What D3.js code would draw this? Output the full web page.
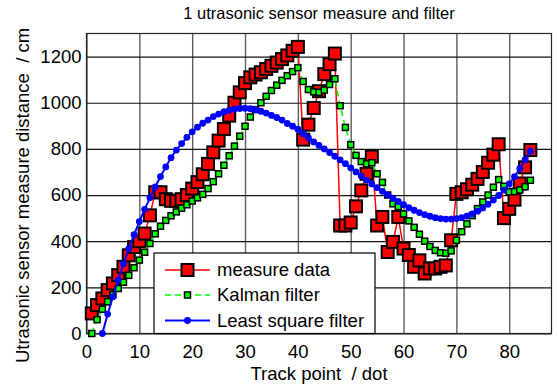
<!DOCTYPE html>
<html><head><meta charset="utf-8">
<script src="https://cdn.jsdelivr.net/npm/d3@7"></script>
<style>body{margin:0;background:#fff}svg{display:block}text{font-family:"Liberation Sans",Arial,sans-serif;fill:#000;white-space:pre}</style>
</head><body>
<script>
const title = "1 utrasonic sensor measure and filter";
const xLabel = "Track point  / dot";
const yLabel = "Utrasonic sensor measure distance  / cm";
const xTicks = [0,10,20,30,40,50,60,70,80];
const yTicks = [0,200,400,600,800,1000,1200];
const seriesNames = ["measure data","Kalman filter","Least square filter"];

const measureStart = 1;
const measure = [87,123,152,188,217,253,289,339,375,400,433,512,612,612,582,575,575,582,600,628,
656,690,735,785,836,886,944,1000,1045,1085,1110,1122,1132,1146,1160,1174,1189,1205,1225,1242,
840,905,977,1050,1124,1167,1213,468,468,481,551,620,692,767,468,505,353,397,505,368,
340,289,317,260,282,282,289,295,404,605,612,625,645,670,700,740,775,820,500,540,
580,650,720,795];

const kalmanStart = 1;
const kalman = [0,60,105,138,168,195,222,252,285,318,352,390,432,465,490,510,527,543,558,574,
588,603,628,658,692,729,770,812,855,898,938,970,1000,1028,1053,1076,1097,1117,1135,1152,
1092,1057,1047,1045,1055,1079,1104,987,893,818,772,745,735,740,692,655,600,562,550,518,
488,460,430,400,377,360,350,348,358,404,441,475,511,541,570,600,634,667,638,614,
615,622,636,664];

const lsqStart = 3;
const lsq = [0,84,159,232,302,368,428,485,538,588,635,680,722,762,795,823,850,874,894,911,
925,940,951,960,967,972,975,976,974,970,963,955,945,936,925,910,898,885,866,848,
830,815,800,784,768,752,736,718,700,682,665,648,632,616,601,586,572,558,545,534,
524,515,508,502,498,496,496,498,502,509,518,530,544,560,578,598,621,648,680,715,
752,790];

const W = 559, H = 390;
const L = 86.5, R = 551.5, T = 33.5, B = 333.5;
const FS = 18.5;
const RS = 12, GS = 6;

const svg = d3.select("body").append("svg").attr("width", W).attr("height", H);
svg.append("rect").attr("width", W).attr("height", H).attr("fill", "#fff");

const x = d3.scaleLinear().domain([0, 88]).range([L, R]);
const y = d3.scaleLinear().domain([0, 1300]).range([B, T]);

// grid
const gx = svg.append("g").attr("transform", `translate(0,${B})`)
  .call(d3.axisBottom(x).tickValues(xTicks).tickSize(-(B - T)).tickFormat(""));
gx.select(".domain").remove();
gx.selectAll("line").attr("stroke", "#5e5e5e").attr("stroke-width", 1.4);
const gy = svg.append("g").attr("transform", `translate(${L},0)`)
  .call(d3.axisLeft(y).tickValues(yTicks).tickSize(-(R - L)).tickFormat(""));
gy.select(".domain").remove();
gy.selectAll("line").attr("stroke", "#111").attr("stroke-width", 1.2);

// box
svg.append("rect").attr("x", L).attr("y", T).attr("width", R - L).attr("height", B - T)
  .attr("fill", "none").attr("stroke", "#222").attr("stroke-width", 1.2);

// tick labels
const fmt = d3.format("d");
const ax = svg.append("g").attr("transform", `translate(0,${B})`)
  .call(d3.axisBottom(x).tickValues(xTicks).tickFormat(fmt).tickSize(0).tickPadding(11));
ax.select(".domain").remove();
ax.selectAll("text").attr("font-size", FS).attr("font-family", "Liberation Sans, Arial, sans-serif");
const ay = svg.append("g").attr("transform", `translate(${L},0)`)
  .call(d3.axisLeft(y).tickValues(yTicks).tickFormat(fmt).tickSize(0).tickPadding(5));
ay.select(".domain").remove();
ay.selectAll("text").attr("font-size", FS).attr("font-family", "Liberation Sans, Arial, sans-serif");

// labels
svg.append("text").attr("x", (L + R) / 2).attr("y", 19).attr("text-anchor", "middle")
  .attr("font-size", 16.5).text(title);
svg.append("text").attr("x", (L + R) / 2).attr("y", 380).attr("text-anchor", "middle")
  .attr("font-size", FS).text(xLabel);
svg.append("text").attr("transform", `translate(29,${(T + B) / 2 + 12}) rotate(-90)`)
  .attr("text-anchor", "middle").attr("font-size", FS).text(yLabel);

const mk = (arr, start) => arr.map((v, i) => ({ x: start + i, y: v }));
const mData = mk(measure, measureStart), kData = mk(kalman, kalmanStart), lData = mk(lsq, lsqStart);
const line = d3.line().x(d => x(d.x)).y(d => y(d.y));

// measure
svg.append("path").datum(mData).attr("d", line).attr("fill", "none").attr("stroke", "#ff0000").attr("stroke-width", 1.5);
svg.append("g").selectAll("rect").data(mData).join("rect")
  .attr("x", d => x(d.x) - RS / 2).attr("y", d => y(d.y) - RS / 2).attr("width", RS).attr("height", RS)
  .attr("fill", "#ff0000").attr("stroke", "#000").attr("stroke-width", 2);

// kalman
svg.append("path").datum(kData).attr("d", line).attr("fill", "none").attr("stroke", "#00ff00")
  .attr("stroke-width", 1.6).attr("stroke-dasharray", "6,4");
svg.append("g").selectAll("rect").data(kData).join("rect")
  .attr("x", d => x(d.x) - GS / 2).attr("y", d => y(d.y) - GS / 2).attr("width", GS).attr("height", GS)
  .attr("fill", "#00ff00").attr("stroke", "#000").attr("stroke-width", 1.5);

// least square
svg.append("path").datum(lData).attr("d", line).attr("fill", "none").attr("stroke", "#0000ff").attr("stroke-width", 2);
svg.append("g").selectAll("circle").data(lData).join("circle")
  .attr("cx", d => x(d.x)).attr("cy", d => y(d.y)).attr("r", 3.4).attr("fill", "#0000ff");

// legend
const lg = svg.append("g");
lg.append("rect").attr("x", 154).attr("y", 253).attr("width", 221).attr("height", 80.5)
  .attr("fill", "#fff").attr("stroke", "#000").attr("stroke-width", 1.2);
const rows = [270, 295, 320.5];
const lx1 = 165, lx2 = 210, lxm = 187.5;
lg.append("line").attr("x1", lx1).attr("x2", lx2).attr("y1", rows[0]).attr("y2", rows[0]).attr("stroke", "#ff0000").attr("stroke-width", 1.5);
lg.append("rect").attr("x", lxm - RS / 2).attr("y", rows[0] - RS / 2).attr("width", RS).attr("height", RS)
  .attr("fill", "#ff0000").attr("stroke", "#000").attr("stroke-width", 2);
lg.append("line").attr("x1", lx1).attr("x2", lx2).attr("y1", rows[1]).attr("y2", rows[1]).attr("stroke", "#00ff00").attr("stroke-width", 1.6).attr("stroke-dasharray", "6,4");
lg.append("rect").attr("x", lxm - GS / 2).attr("y", rows[1] - GS / 2).attr("width", GS).attr("height", GS)
  .attr("fill", "#00ff00").attr("stroke", "#000").attr("stroke-width", 1.5);
lg.append("line").attr("x1", lx1).attr("x2", lx2).attr("y1", rows[2]).attr("y2", rows[2]).attr("stroke", "#0000ff").attr("stroke-width", 2);
lg.append("circle").attr("cx", lxm).attr("cy", rows[2]).attr("r", 3.4).attr("fill", "#0000ff");
seriesNames.forEach((n, i) => {
  lg.append("text").attr("x", 217).attr("y", rows[i]).attr("dy", "0.35em").attr("font-size", FS).text(n);
});
</script>
</body></html>
